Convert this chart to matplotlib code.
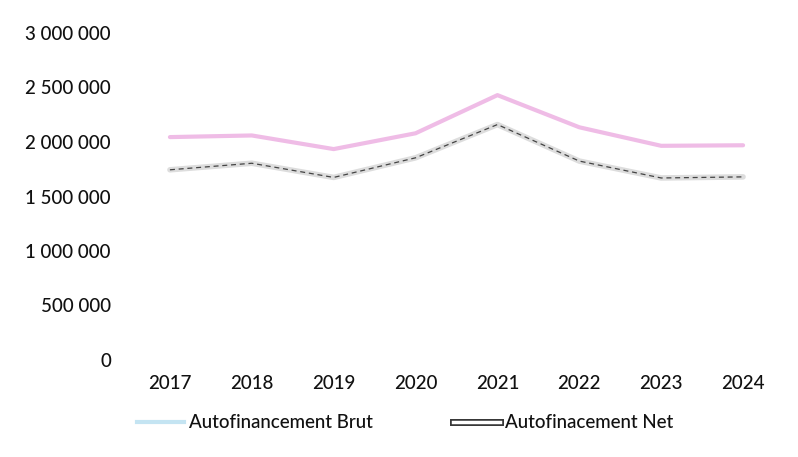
import matplotlib.pyplot as plt
import matplotlib.patheffects as pe
from matplotlib.lines import Line2D
from matplotlib.ticker import FuncFormatter

# Données
annees = ['2017', '2018', '2019', '2020', '2021', '2022', '2023', '2024']
autofin_brut = [2045000, 2060000, 1935000, 2080000, 2430000, 2135000, 1965000, 1970000]
autofin_net = [1745000, 1805000, 1675000, 1855000, 2160000, 1825000, 1670000, 1680000]

plt.rcParams['font.family'] = ['Lato', 'DejaVu Sans']

fig = plt.figure(figsize=(7.98, 4.57), dpi=100)
ax = fig.add_axes([129 / 798, 1 - 360 / 457, (784 - 129) / 798, (360 - 33) / 457])

x = range(len(annees))
ax.plot(x, autofin_brut, color='#eaa6de', lw=3, alpha=0.75, solid_capstyle='round')
ax.plot(x, autofin_net, color='#dddddd', lw=4, solid_capstyle='round')
ax.plot(x, autofin_net, color='#444444', lw=0.9, ls=(0, (4, 3)))

ax.set_xlim(-0.5, len(annees) - 0.5)
ax.set_ylim(0, 3000000)
ax.set_yticks(range(0, 3000001, 500000))
ax.yaxis.set_major_formatter(FuncFormatter(lambda v, p: f"{int(v):,}".replace(',', ' ')))
ax.set_xticks(list(x))
ax.set_xticklabels(annees)
ax.tick_params(axis='y', length=0, pad=13, labelsize=13.5, labelcolor='#111111')
ax.tick_params(axis='x', length=0, pad=11, labelsize=13.5, labelcolor='#111111')
for lbl in ax.get_xticklabels() + ax.get_yticklabels():
    lbl.set_fontweight('medium')
for s in ax.spines.values():
    s.set_visible(False)

# Légende (couleurs telles qu'elles apparaissent sur le scan)
h_brut = Line2D([0], [0], color='#c4e4f2', lw=3)
h_net = Line2D([0], [0], color='white', lw=2.5,
               path_effects=[pe.Stroke(linewidth=5, foreground='#333333'), pe.Normal()])
leg = fig.legend([h_brut, h_net], ['Autofinancement Brut', 'Autofinacement Net'],
                 loc='center', bbox_to_anchor=(405 / 798, 1 - 423 / 457), ncol=2,
                 frameon=False, prop={'size': 13.5, 'weight': 'medium'},
                 handlelength=2.5, handletextpad=0.25, columnspacing=4.3,
                 labelcolor='#111111')

fig.savefig('out.png', dpi=100)
